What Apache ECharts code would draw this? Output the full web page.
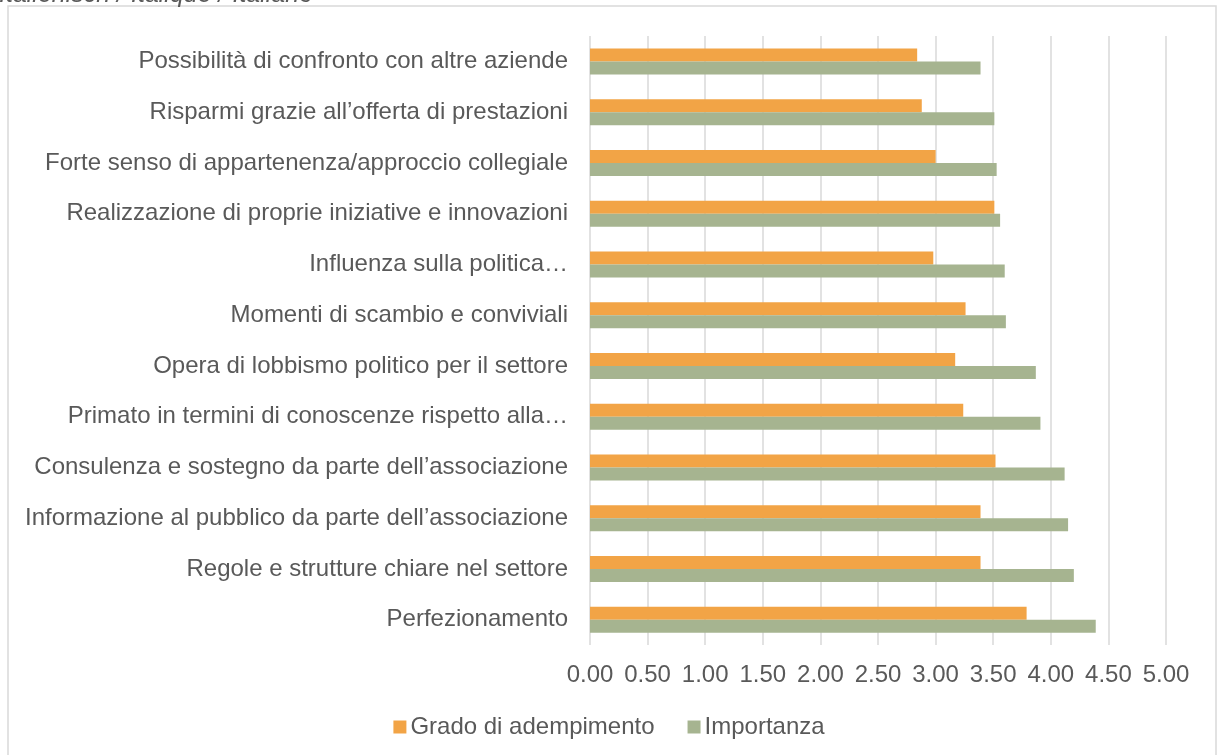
<!DOCTYPE html>
<html>
<head>
<meta charset="utf-8">
<script src="https://cdn.jsdelivr.net/npm/echarts@6/dist/echarts.min.js"></script>
<style>
html,body{margin:0;padding:0;background:#fff;}
#chart{width:1218px;height:755px;}
</style>
</head>
<body>
<div id="chart"></div>
<script>
// Categories listed top to bottom
const categories = [
  "Possibilità di confronto con altre aziende",
  "Risparmi grazie all’offerta di prestazioni",
  "Forte senso di appartenenza/approccio collegiale",
  "Realizzazione di proprie iniziative e innovazioni",
  "Influenza sulla politica…",
  "Momenti di scambio e conviviali",
  "Opera di lobbismo politico per il settore",
  "Primato in termini di conoscenze rispetto alla…",
  "Consulenza e sostegno da parte dell’associazione",
  "Informazione al pubblico da parte dell’associazione",
  "Regole e strutture chiare nel settore",
  "Perfezionamento"
];
const gradoValues = [2.84, 2.88, 3.00, 3.51, 2.98, 3.26, 3.17, 3.24, 3.52, 3.39, 3.39, 3.79];
const importanzaValues = [3.39, 3.51, 3.53, 3.56, 3.60, 3.61, 3.87, 3.91, 4.12, 4.15, 4.20, 4.39];
const seriesNames = ["Grado di adempimento", "Importanza"];
const titleText = "Italienisch / Italique / Italiano";

const textColor = "#595959";
const font = "Liberation Sans, Arial, sans-serif";

const chart = echarts.init(document.getElementById('chart'), null, {renderer: 'canvas'});
chart.setOption({
  animation: false,
  textStyle: {fontFamily: font},
  graphic: [
    {type: 'rect', shape: {x: 8, y: 6, width: 1208, height: 760},
     style: {fill: 'none', stroke: '#d9d9d9', lineWidth: 1.5}, silent: true},
    {type: 'text', x: -1, y: 8,
     style: {text: titleText, font: 'italic 25px ' + font, fill: textColor, verticalAlign: 'bottom'}}
  ],
  grid: {left: 590, right: 52, top: 36, bottom: 110, containLabel: false},
  legend: {
    data: seriesNames,
    bottom: 11,
    left: 'center',
    itemWidth: 13,
    itemHeight: 13,
    itemGap: 33,
    icon: 'rect',
    textStyle: {fontSize: 24, color: textColor, fontFamily: font, padding: [0, 0, 0, -1]}
  },
  xAxis: {
    type: 'value',
    min: 0, max: 5, interval: 0.5,
    axisLine: {show: false},
    axisTick: {show: false},
    splitLine: {show: true, lineStyle: {color: '#d9d9d9', width: 1.5}},
    axisLabel: {
      fontSize: 24, color: textColor, fontFamily: font, margin: 18,
      formatter: v => v.toFixed(2)
    }
  },
  yAxis: {
    type: 'category',
    data: categories,
    inverse: true,
    axisLine: {show: false},
    axisTick: {show: false},
    axisLabel: {fontSize: 24, color: textColor, fontFamily: font, margin: 22}
  },
  series: [
    {name: seriesNames[0], type: 'bar', data: gradoValues, barWidth: 13, barGap: '0%',
     itemStyle: {color: '#F2A446'}},
    {name: seriesNames[1], type: 'bar', data: importanzaValues, barWidth: 13, barGap: '0%',
     itemStyle: {color: '#A6B490'}}
  ]
});
</script>
</body>
</html>
